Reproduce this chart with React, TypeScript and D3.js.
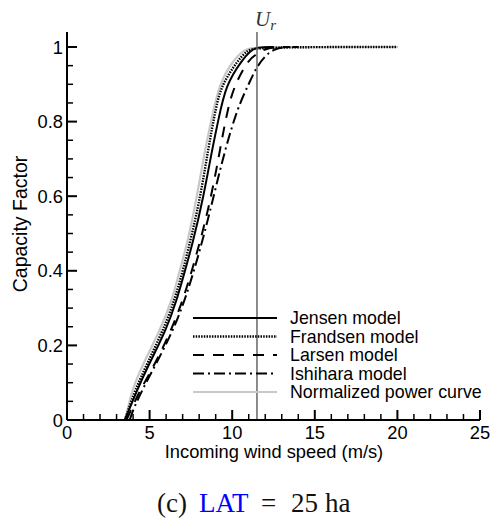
import React from "react";
import * as d3 from "d3";

// ---------- Data (wind speed m/s, capacity factor) ----------
const powerCurve: [number, number][] = [
  [3.5, 0], [3.63, 0.02], [3.93, 0.08], [4.6, 0.15], [5.63, 0.24], [6.42, 0.33],
  [6.66, 0.375], [7.3, 0.475], [7.87, 0.6], [8.35, 0.724], [8.72, 0.8],
  [9.2, 0.9], [10.05, 0.965], [10.8, 0.995], [11.3, 1], [20, 1],
];
const jensen: [number, number][] = [
  [3.5, 0], [3.69, 0.02], [4.24, 0.08], [4.96, 0.15], [6.0, 0.24], [6.7, 0.33],
  [6.98, 0.375], [7.62, 0.475], [8.27, 0.6], [8.78, 0.724], [9.14, 0.8],
  [9.62, 0.9], [10.6, 0.965], [11.1, 0.99], [11.5, 1], [12.5, 1],
];
const frandsen: [number, number][] = [
  [3.5, 0], [3.66, 0.02], [4.12, 0.08], [4.84, 0.15], [5.81, 0.24], [6.6, 0.33],
  [7.45, 0.475], [8.08, 0.6], [8.54, 0.724], [9.02, 0.84], [9.38, 0.9],
  [10.35, 0.965], [10.9, 0.99], [11.4, 1], [20, 1],
];
const larsen: [number, number][] = [
  [3.6, 0], [3.8, 0.02], [4.42, 0.08], [5.33, 0.15], [6.3, 0.24], [7.1, 0.33],
  [8.05, 0.475], [8.74, 0.6], [9.26, 0.724], [9.75, 0.84], [10.17, 0.9],
  [10.96, 0.965], [11.44, 0.98], [12.0, 0.995], [12.5, 1], [13.5, 1],
];
const ishihara: [number, number][] = [
  [3.8, 0], [3.93, 0.02], [4.54, 0.08], [5.39, 0.15], [6.42, 0.24], [7.22, 0.33],
  [8.18, 0.475], [8.88, 0.6], [9.56, 0.724], [10.35, 0.84], [11.0, 0.9],
  [11.44, 0.944], [12.05, 0.98], [12.6, 0.995], [13.1, 1], [14, 1],
];

const xMajor = [0, 5, 10, 15, 20, 25];
const yMajor = [0, 0.2, 0.4, 0.6, 0.8, 1];
const ratedSpeed = 11.5;

interface Series {
  name: string;
  data: [number, number][];
  stroke: string;
  width: number;
  dash?: string;
}

const series: Series[] = [
  { name: "Normalized power curve", data: powerCurve, stroke: "#c8c8c8", width: 2.2 },
  { name: "Jensen model", data: jensen, stroke: "#000", width: 2 },
  { name: "Frandsen model", data: frandsen, stroke: "#000", width: 2.4, dash: "1.5 1.2" },
  { name: "Larsen model", data: larsen, stroke: "#000", width: 2, dash: "11 9" },
  { name: "Ishihara model", data: ishihara, stroke: "#000", width: 2, dash: "11 4 2 4" },
];
const legendOrder = [1, 2, 3, 4, 0];

const W = 490;
const H = 520;

const App: React.FC = () => {
  const x = d3.scaleLinear().domain([0, 25]).range([67, 480]);
  const y = d3.scaleLinear().domain([0, 1]).range([420, 47]);
  const yTop = y(1.04);

  const line = d3
    .line<[number, number]>()
    .x((d) => x(d[0]))
    .y((d) => y(d[1]))
    .curve(d3.curveBasis);

  const xMinor = d3.range(0, 26, 1).filter((v) => v % 5 !== 0);
  const yMinor = d3
    .range(0, 1.0001, 0.05)
    .filter((v) => Math.abs((v * 5) % 1) > 0.01 && Math.abs((v * 5) % 1) < 0.99);

  const font = "'Liberation Sans', Arial, sans-serif";
  const fs = 18.3;

  return (
    <svg width={W} height={H} style={{ position: "absolute", left: 0, top: 0 }}>
      <rect width={W} height={H} fill="#fff" />

      {/* curves */}
      {series.map((s) => (
        <path
          key={s.name}
          d={line(s.data) ?? ""}
          fill="none"
          stroke={s.stroke}
          strokeWidth={s.width}
          strokeDasharray={s.dash}
        />
      ))}

      {/* rated speed line */}
      <line x1={x(ratedSpeed)} x2={x(ratedSpeed)} y1={yTop} y2={y(0)} stroke="#666" strokeWidth={1.5} />
      <text x={x(ratedSpeed) - 2} y={26} fontFamily="'Liberation Serif', serif" fontStyle="italic" fontSize={21} fill="#333">
        U<tspan fontSize={15} dy={4}>r</tspan>
      </text>

      {/* axes */}
      <line x1={x(0)} x2={x(0)} y1={yTop} y2={y(0)} stroke="#000" strokeWidth={2} />
      <line x1={x(0)} x2={x(25)} y1={y(0)} y2={y(0)} stroke="#000" strokeWidth={2} />
      {xMajor.map((v) => (
        <g key={"xm" + v}>
          <line x1={x(v)} x2={x(v)} y1={y(0)} y2={y(0) - 10} stroke="#000" strokeWidth={2} />
          <text x={x(v)} y={439} textAnchor="middle" fontFamily={font} fontSize={fs}>
            {v}
          </text>
        </g>
      ))}
      {xMinor.map((v) => (
        <line key={"xn" + v} x1={x(v)} x2={x(v)} y1={y(0)} y2={y(0) - 6} stroke="#000" strokeWidth={1.5} />
      ))}
      {yMajor.map((v) => (
        <g key={"ym" + v}>
          <line x1={x(0)} x2={x(0) + 10} y1={y(v)} y2={y(v)} stroke="#000" strokeWidth={2} />
          <text x={x(0) - 4} y={y(v) + 6.5} textAnchor="end" fontFamily={font} fontSize={fs}>
            {v}
          </text>
        </g>
      ))}
      {yMinor.map((v) => (
        <line key={"yn" + v} x1={x(0)} x2={x(0) + 6} y1={y(v)} y2={y(v)} stroke="#000" strokeWidth={1.5} />
      ))}

      <text x={274} y={458} textAnchor="middle" fontFamily={font} fontSize={fs}>
        Incoming wind speed (m/s)
      </text>
      <text transform="translate(27,224) rotate(-90)" textAnchor="middle" fontFamily={font} fontSize={19.5}>
        Capacity Factor
      </text>

      {/* legend */}
      {legendOrder.map((idx, i) => {
        const s = series[idx];
        const ly = 318 + i * 18.5;
        return (
          <g key={"lg" + s.name}>
            <line x1={193} x2={277} y1={ly} y2={ly} stroke={s.stroke} strokeWidth={s.width} strokeDasharray={s.dash} />
            <text x={290} y={ly + 6.3} fontFamily={font} fontSize={17.8}>
              {s.name}
            </text>
          </g>
        );
      })}

      {/* caption */}
      <text y={512} fontFamily="'Liberation Serif', serif" fontSize={27} fill="#111">
        <tspan x={157}>(c)</tspan>
        <tspan x={199} fill="#0000ff">LAT</tspan>
        <tspan x={261}>=</tspan>
        <tspan x={291}>25</tspan>
        <tspan x={325}>ha</tspan>
      </text>
    </svg>
  );
};

export default App;
